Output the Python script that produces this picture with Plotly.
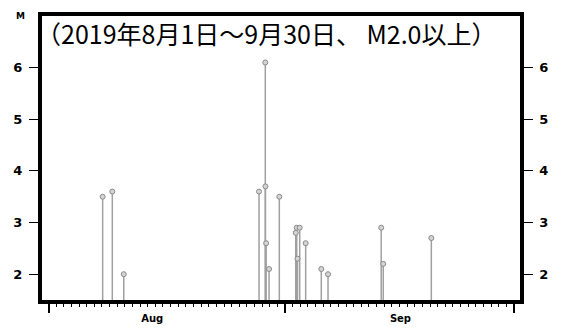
import plotly.graph_objects as go
import pandas as pd

# Earthquake list, 2019-08-01 .. 2019-09-30, M >= 2.0
event_times = [
    "2019-08-08 02:20", "2019-08-09 08:40", "2019-08-10 20:40",
    "2019-08-28 14:10", "2019-08-29 09:50", "2019-08-29 10:20",
    "2019-08-29 12:30", "2019-08-29 21:40", "2019-08-31 06:00",
    "2019-09-02 09:40", "2019-09-02 12:40", "2019-09-02 15:10",
    "2019-09-02 22:05", "2019-09-03 16:50", "2019-09-05 18:00",
    "2019-09-06 15:10", "2019-09-13 14:25", "2019-09-13 20:50",
    "2019-09-20 04:05",
]
magnitudes = [
    3.5, 3.6, 2.0,
    3.6, 6.1, 3.7,
    2.6, 2.1, 3.5,
    2.8, 2.9, 2.3,
    2.9, 2.6, 2.1,
    2.0, 2.9, 2.2,
    2.7,
]

y_floor = 1.5
y_top = 7.0
x_start = "2019-07-31 03:30"
x_end = "2019-10-01 19:00"

y_ticks = [2, 3, 4, 5, 6]
y_tick_labels = ["2", "3", "4", "5", "6"]
day_ticks_start = "2019-07-31"
decade_ticks = ["2019-08-11", "2019-08-21", "2019-09-11", "2019-09-21"]
month_ticks = ["2019-08-01", "2019-09-01", "2019-10-01"]
month_label_pos = ["2019-08-14 14:00", "2019-09-16 03:00"]
month_labels = ["Aug", "Sep"]

title_text = "（2019年8月1日～9月30日、 M2.0以上）"

times = pd.to_datetime(event_times)
stem_down = [m - y_floor for m in magnitudes]


def bold(labels):
    return [f"<b>{s}</b>" for s in labels]


STEM = "#a0a0a0"
tick_font = dict(family="DejaVu Sans", size=13, color="black")

fig = go.Figure()
fig.add_trace(go.Scatter(
    x=times, y=magnitudes, mode="markers",
    marker=dict(size=5, color="#d4d4d4", line=dict(color="#8a8a8a", width=1)),
    error_y=dict(type="data", symmetric=False, array=[0] * len(magnitudes),
                 arrayminus=stem_down, color=STEM, thickness=1.5, width=0),
    showlegend=False, hoverinfo="x+y",
))

common_x = dict(type="date", range=[x_start, x_end], showgrid=False, zeroline=False)

fig.update_layout(
    width=562, height=336,
    margin=dict(l=42, r=42, t=12, b=31),
    paper_bgcolor="white", plot_bgcolor="white",
    xaxis=dict(
        **common_x,
        tickmode="array", tickvals=month_label_pos, ticktext=bold(month_labels),
        ticks="", tickfont=dict(family="DejaVu Sans", size=10, color="black"),
        ticklabelstandoff=6,
        showline=True, linewidth=3.5, linecolor="black", mirror=True,
        minor=dict(ticks="outside", tickmode="linear", tick0=day_ticks_start,
                   dtick=86400000, ticklen=3, tickwidth=1, tickcolor="black"),
    ),
    xaxis2=dict(
        **common_x, overlaying="x", anchor="y", side="bottom",
        tickmode="array", tickvals=decade_ticks, showticklabels=False,
        ticks="outside", ticklen=6, tickwidth=1, tickcolor="black", showline=False,
    ),
    xaxis3=dict(
        **common_x, overlaying="x", anchor="y", side="bottom",
        tickmode="array", tickvals=month_ticks, showticklabels=False,
        ticks="outside", ticklen=12, tickwidth=1.5, tickcolor="black", showline=False,
    ),
    yaxis=dict(
        range=[y_floor, y_top], tickmode="array", tickvals=y_ticks,
        ticktext=bold(y_tick_labels),
        ticks="outside", ticklen=9, tickwidth=1, tickcolor="black",
        tickfont=tick_font, ticklabelstandoff=4,
        showline=True, linewidth=4, linecolor="black", mirror=True,
        showgrid=False, zeroline=False,
    ),
    yaxis2=dict(
        range=[y_floor, y_top], overlaying="y", side="right", anchor="x",
        tickmode="array", tickvals=y_ticks, ticktext=bold(y_tick_labels),
        ticks="outside", ticklen=9, tickwidth=1, tickcolor="black",
        tickfont=tick_font, ticklabelstandoff=4,
        showline=True, linewidth=3.5, linecolor="black",
        showgrid=False, zeroline=False,
    ),
    annotations=[
        dict(text="<b>M</b>", xref="paper", yref="paper", x=-0.045, y=1.0,
             xanchor="center", yanchor="middle", showarrow=False,
             font=dict(family="DejaVu Sans", size=9, color="black")),
        dict(text=title_text, xref="paper", yref="paper", x=-0.016, y=0.94,
             xanchor="left", yanchor="middle", showarrow=False,
             font=dict(family="Noto Sans CJK JP", size=25, color="black")),
    ],
)

# empty traces so that the overlay axes are drawn
fig.add_trace(go.Scatter(x=[], y=[], xaxis="x2", yaxis="y", showlegend=False))
fig.add_trace(go.Scatter(x=[], y=[], xaxis="x3", yaxis="y", showlegend=False))
fig.add_trace(go.Scatter(x=[], y=[], xaxis="x", yaxis="y2", showlegend=False))

fig.write_html("out.html")
